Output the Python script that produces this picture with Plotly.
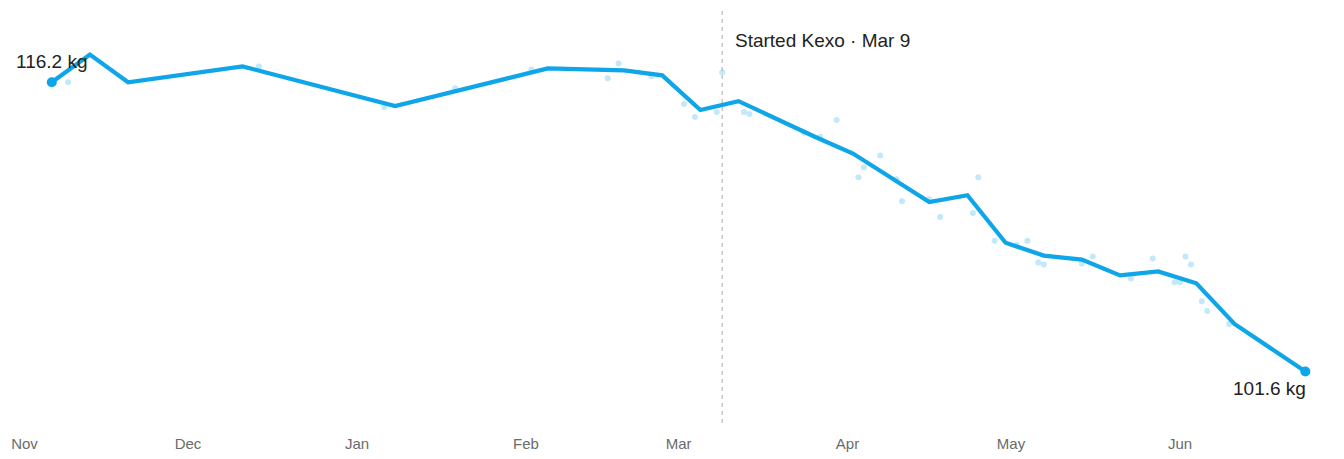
import plotly.graph_objects as go
from datetime import datetime, timedelta

# Weekly trend line
trend_dates = ["2024-11-06", "2024-11-13", "2024-11-20", "2024-12-11", "2025-01-08",
               "2025-02-05", "2025-02-19", "2025-02-26", "2025-03-05", "2025-03-12",
               "2025-03-26", "2025-04-02", "2025-04-16", "2025-04-23", "2025-04-30",
               "2025-05-07", "2025-05-14", "2025-05-21", "2025-05-28", "2025-06-04",
               "2025-06-11", "2025-06-24"]
trend_kg = [116.2, 117.6, 116.2, 117.0, 115.0,
            116.9, 116.8, 116.55, 114.8, 115.25,
            113.45, 112.6, 110.15, 110.5, 108.1,
            107.45, 107.25, 106.45, 106.65, 106.05,
            104.0, 101.6]

# Raw weigh-ins
raw_dates = ["2024-11-06", "2024-11-09", "2024-12-14", "2025-01-06", "2025-01-19",
             "2025-02-02", "2025-02-16", "2025-02-18", "2025-02-24", "2025-03-02",
             "2025-03-04", "2025-03-08", "2025-03-09", "2025-03-13", "2025-03-14",
             "2025-03-24", "2025-03-27", "2025-03-30", "2025-04-03", "2025-04-04",
             "2025-04-07", "2025-04-10", "2025-04-11", "2025-04-16", "2025-04-18",
             "2025-04-24", "2025-04-25", "2025-04-28", "2025-05-02", "2025-05-04",
             "2025-05-06", "2025-05-07", "2025-05-14", "2025-05-16", "2025-05-23",
             "2025-05-27", "2025-05-31", "2025-06-01", "2025-06-02", "2025-06-03",
             "2025-06-05", "2025-06-06", "2025-06-10", "2025-06-24"]
raw_kg = [116.2, 116.2, 117.0, 114.95, 115.9,
          116.85, 116.4, 117.15, 116.5, 115.1,
          114.45, 114.7, 116.7, 114.7, 114.6,
          113.65, 113.45, 114.3, 111.4, 111.9,
          112.5, 111.3, 110.2, 110.3, 109.4,
          109.6, 111.4, 108.2, 108.0, 108.2,
          107.1, 107.0, 107.05, 107.4, 106.3,
          107.3, 106.1, 106.1, 107.4, 107.0,
          105.15, 104.65, 104.0, 101.6]

tick_vals = ["2024-11-01", "2024-12-01", "2025-01-01", "2025-02-01",
             "2025-03-01", "2025-04-01", "2025-05-01", "2025-06-01"]
tick_text = ["Nov", "Dec", "Jan", "Feb", "Mar", "Apr", "May", "Jun"]

event_date = "2025-03-09"
event_label = "Started Kexo · Mar 9"

BLUE = "#0ea5e9"

W, H = 1344, 459
base = datetime(2024, 11, 1)
px_per_day = 5.4505
x0 = base - timedelta(days=24.5 / px_per_day)
x1 = base + timedelta(days=(W - 24.5) / px_per_day)

fig = go.Figure()
fig.add_trace(go.Scatter(
    x=raw_dates, y=raw_kg, mode="markers",
    marker=dict(size=6, color=BLUE, opacity=0.25, line=dict(width=0)),
    hoverinfo="skip", showlegend=False))
fig.add_trace(go.Scatter(
    x=trend_dates, y=trend_kg, mode="lines",
    line=dict(color=BLUE, width=4.2), showlegend=False))
fig.add_trace(go.Scatter(
    x=[trend_dates[0], trend_dates[-1]], y=[trend_kg[0], trend_kg[-1]],
    mode="markers", marker=dict(size=10, color=BLUE), showlegend=False))

fig.add_shape(type="line", xref="x", yref="paper",
              x0=event_date, x1=event_date, y0=0, y1=1,
              line=dict(color="#aaaaaa", width=1, dash="4px,4px"))

font_txt = dict(family="Liberation Sans, Arial, sans-serif", size=19, color="#222222")
fig.add_annotation(x=event_date, y=1, xref="x", yref="paper", text=event_label,
                   showarrow=False, xanchor="left", yanchor="middle",
                   xshift=11, yshift=-33, font=font_txt)
fig.add_annotation(x=trend_dates[0], y=trend_kg[0], text=f"{trend_kg[0]:.1f} kg",
                   showarrow=False, xanchor="center", yanchor="middle",
                   yshift=21, font=font_txt)
fig.add_annotation(x=trend_dates[-1], y=trend_kg[-1], text=f"{trend_kg[-1]:.1f} kg",
                   showarrow=False, xanchor="right", yanchor="middle",
                   yshift=-17, xshift=3, font=font_txt)

fig.update_layout(
    width=W, height=H,
    margin=dict(l=0, r=0, t=7, b=36),
    paper_bgcolor="white", plot_bgcolor="white",
    showlegend=False,
    xaxis=dict(range=[x0, x1], tickmode="array", tickvals=tick_vals, ticktext=tick_text,
               showgrid=False, zeroline=False, showline=False,
               ticks="outside", ticklen=7, tickcolor="rgba(0,0,0,0)",
               tickfont=dict(family="Liberation Sans, Arial, sans-serif", size=15, color="#6b6b6b")),
    yaxis=dict(range=[99, 120], visible=False, showgrid=False, zeroline=False),
)

fig.write_html("out.html")
